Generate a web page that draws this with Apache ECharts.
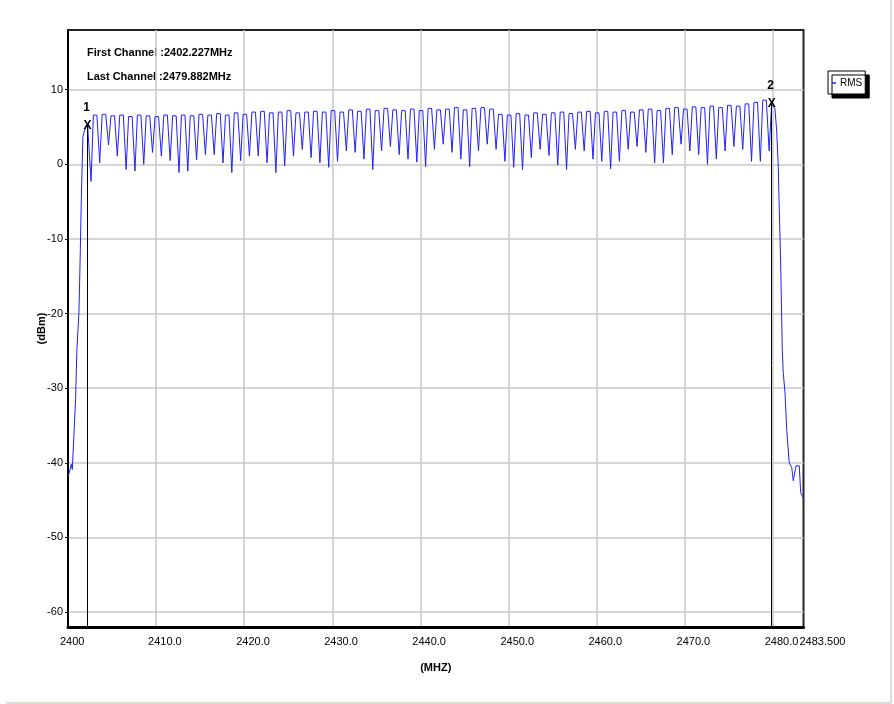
<!DOCTYPE html>
<html>
<head>
<meta charset="utf-8">
<script src="https://cdn.jsdelivr.net/npm/echarts@6/dist/echarts.min.js"></script>
<style>
html,body{margin:0;padding:0;background:#fff;}
#chart{width:894px;height:704px;}
</style>
</head>
<body>
<div id="chart"></div>
<script>
// ---- data ----
const xTickValues = [2400, 2410, 2420, 2430, 2440, 2450, 2460, 2470, 2480];
const xEndValues = [2483.5];
const yTickValues = [-60, -50, -40, -30, -20, -10, 0, 10];

// left skirt of the trace (MHz, dBm)
const leftEdgeFreq  = [2400.0, 2400.1, 2400.37, 2400.49, 2400.86, 2401.01, 2401.24, 2401.32, 2401.40, 2401.51, 2401.69, 2402.0, 2402.23, 2402.62];
const leftEdgeLevel = [-41.8, -41.5, -40.2, -40.9, -31.5, -24.8, -19.9, -15.8, -11.4, -4.7, 3.7, 5.0, 5.2, -2.3];

// hopping channels: channel frequency, top level and following dip level
const chanFreq = [2403,2404,2405,2406,2407,2408,2409,2410,2411,2412,
                  2413,2414,2415,2416,2417,2418,2419,2420,2421,2422,
                  2423,2424,2425,2426,2427,2428,2429,2430,2431,2432,
                  2433,2434,2435,2436,2437,2438,2439,2440,2441,2442,
                  2443,2444,2445,2446,2447,2448,2449,2450,2451,2452,
                  2453,2454,2455,2456,2457,2458,2459,2460,2461,2462,
                  2463,2464,2465,2466,2467,2468,2469,2470,2471,2472,
                  2473,2474,2475,2476,2477,2478,2479];
const chanTop  = [6.6,6.7,6.5,6.6,6.4,6.6,6.5,6.4,6.6,6.5,
                  6.6,6.5,6.7,6.6,6.8,6.6,6.9,6.7,7.0,7.1,
                  6.9,7.0,7.2,6.9,7.0,7.1,7.0,7.2,7.0,7.3,
                  7.1,7.4,7.2,7.5,7.3,7.2,7.4,7.2,7.5,7.3,
                  7.4,7.6,7.3,7.5,7.6,7.4,6.7,6.6,6.8,6.6,
                  6.9,6.7,6.9,7.0,6.8,7.0,7.1,6.9,7.1,7.0,
                  7.2,7.0,7.3,7.4,7.2,7.5,7.6,7.4,7.7,7.6,
                  7.8,7.6,7.9,7.8,8.1,8.3,8.6];
const chanDip  = [0.2,2.6,1.1,-0.7,-0.9,0.0,1.6,1.1,0.5,-1.1,
                  -0.9,0.6,1.3,1.3,0.2,-1.1,0.5,1.1,1.1,0.2,
                  -1.1,-0.2,1.1,2.0,0.9,0.2,-0.4,0.4,1.8,1.6,
                  0.7,-0.7,1.8,2.4,1.3,0.7,0.3,-0.3,2.0,2.7,
                  1.6,0.7,-0.3,1.8,2.7,2.0,0.4,-0.4,-0.7,0.9,
                  2.0,1.2,-0.1,-0.7,2.0,1.8,0.7,0.4,-0.6,0.4,
                  2.0,2.4,1.6,0.2,0.2,1.3,2.7,1.8,1.3,0.0,
                  0.7,1.8,2.4,2.0,0.4,0.4,1.8];

// right skirt of the trace
const rightEdgeFreq  = [2479.88, 2480.25, 2480.45, 2480.64, 2480.71, 2480.9, 2481.09, 2481.2, 2481.4, 2481.59, 2481.88, 2482.16, 2482.34, 2482.65, 2483.02, 2483.18, 2483.47, 2483.5];
const rightEdgeLevel = [8.1, 7.5, 4.6, -0.3, -4.3, -12.8, -24.8, -27.9, -30.6, -35.5, -40.0, -40.6, -42.4, -40.4, -40.4, -44.0, -44.7, -44.8];

// markers
const markerNames = ['1', '2'];
const markerFreq  = [2402.227, 2479.882];
const markerLevel = [5.2, 8.1];

const firstChannelText = 'First Channel :2402.227MHz';
const lastChannelText  = 'Last Channel :2479.882MHz';

// ---- build series data ----
const traceData = [];
for (let i = 0; i < leftEdgeFreq.length; i++) traceData.push([leftEdgeFreq[i], leftEdgeLevel[i]]);
for (let i = 0; i < chanFreq.length; i++) {
  traceData.push([chanFreq[i] - 0.12, chanTop[i]]);
  traceData.push([chanFreq[i] + 0.28, chanTop[i]]);
  traceData.push([chanFreq[i] + 0.6, chanDip[i]]);
}
for (let i = 0; i < rightEdgeFreq.length; i++) traceData.push([rightEdgeFreq[i], rightEdgeLevel[i]]);

const X_MIN = 2400, X_MAX = 2483.5;
const Y_MIN = -62, Y_MAX = 18;
const FONT = "'Liberation Sans Narrow', 'Arial Narrow', 'Liberation Sans', Arial, sans-serif";

const markLines = markerFreq.map((f, i) => [{ coord: [f, Y_MIN] }, { coord: [f, markerLevel[i]] }]);
const markPoints = [];
markerFreq.forEach((f, i) => {
  markPoints.push({ coord: [f, markerLevel[i]], value: 'X', label: { formatter: 'X', offset: [0, 0] } });
  markPoints.push({ coord: [f, markerLevel[i]], value: markerNames[i], label: { formatter: markerNames[i], offset: [-1, -18] } });
});

function xLabel(v) {
  if (v === 2400) return '2400';
  if (v === 2483.5) return '2483.500';
  return v.toFixed(1);
}

const chart = echarts.init(document.getElementById('chart'), null, { renderer: 'canvas' });
chart.setOption({
  animation: false,
  backgroundColor: '#ffffff',
  grid: {
    left: 68, top: 30, width: 735.5, height: 597,
    show: true, borderColor: '#222', borderWidth: 2, backgroundColor: 'transparent',
    containLabel: false
  },
  legend: {
    data: ['RMS'],
    left: 828, top: 71,
    orient: 'vertical',
    icon: 'rect', itemWidth: 4, itemHeight: 1.5, itemGap: 0,
    padding: [7, 3, 6, 4],
    backgroundColor: '#fff', borderColor: '#000', borderWidth: 1,
    shadowColor: '#000', shadowBlur: 0, shadowOffsetX: 4, shadowOffsetY: 4,
    textStyle: { fontFamily: FONT, fontSize: 10, color: '#000', padding: [0, 0, 0, -1] }
  },
  graphic: [
    { type: 'text', left: 87, top: 47, style: { text: firstChannelText, font: "bold 11px " + FONT, fill: '#000' } },
    { type: 'text', left: 87, top: 71, style: { text: lastChannelText, font: "bold 11px " + FONT, fill: '#000' } },
    { type: 'line', shape: { x1: 6, y1: 703, x2: 891, y2: 703 }, style: { stroke: '#d4d0c8', lineWidth: 1.5 } },
    { type: 'line', shape: { x1: 891, y1: 0, x2: 891, y2: 703 }, style: { stroke: '#d4d0c8', lineWidth: 1.5 } }
  ],
  xAxis: [{
    type: 'value', min: X_MIN, max: X_MAX,
    name: '(MHZ)', nameLocation: 'middle', nameGap: 35, nameMoveOverlap: false,
    nameTextStyle: { fontFamily: FONT, fontSize: 11, fontWeight: 'bold', color: '#000' },
    axisLine: { show: true, onZero: false, lineStyle: { color: '#000', width: 3 } },
    axisTick: { show: false, customValues: xTickValues },
    axisLabel: {
      customValues: xTickValues,
      showMinLabel: true, showMaxLabel: true, hideOverlap: false,
      fontFamily: FONT, fontSize: 11, color: '#000', margin: 9,
      align: 'left', padding: [0, 0, 0, -8],
      formatter: xLabel
    },
    splitLine: { show: true, lineStyle: { color: '#c8c8c8', width: 1.5 } }
  }, {
    type: 'value', min: X_MIN, max: X_MAX, position: 'bottom', offset: 0,
    axisLine: { show: false },
    axisTick: { show: false, customValues: xEndValues },
    axisLabel: {
      customValues: xEndValues,
      showMinLabel: true, showMaxLabel: true,
      fontFamily: FONT, fontSize: 11, color: '#000', margin: 9,
      align: 'left', padding: [0, 0, 0, -4],
      formatter: xLabel
    },
    splitLine: { show: false }
  }],
  yAxis: {
    type: 'value', min: Y_MIN, max: Y_MAX,
    name: '(dBm)', nameLocation: 'middle', nameGap: 21, nameMoveOverlap: false,
    nameTextStyle: { fontFamily: FONT, fontSize: 11, fontWeight: 'bold', color: '#000' },
    axisLine: { show: true, onZero: false, lineStyle: { color: '#000', width: 2 } },
    axisTick: { show: true, inside: false, length: 3, customValues: yTickValues, lineStyle: { color: '#000' } },
    axisLabel: { customValues: yTickValues, fontFamily: FONT, fontSize: 11, color: '#000', margin: 5 },
    splitLine: { show: true, lineStyle: { color: '#c8c8c8', width: 1.5 } }
  },
  series: [{
    name: 'RMS',
    type: 'line',
    xAxisIndex: 0,
    data: traceData,
    showSymbol: false,
    symbol: 'none',
    color: '#2020ff',
    lineStyle: { color: '#2020ff', width: 1 },
    silent: true,
    markLine: {
      silent: true, symbol: 'none', animation: false,
      label: { show: false },
      lineStyle: { color: '#000', width: 1, type: 'solid' },
      emphasis: { disabled: true },
      data: markLines
    },
    markPoint: {
      silent: true, symbol: 'circle', symbolSize: 1, animation: false,
      itemStyle: { color: 'rgba(0,0,0,0)' },
      label: { show: true, position: 'inside', color: '#000', fontFamily: FONT, fontSize: 12, fontWeight: 'bold' },
      data: markPoints
    }
  }]
});
</script>
</body>
</html>
